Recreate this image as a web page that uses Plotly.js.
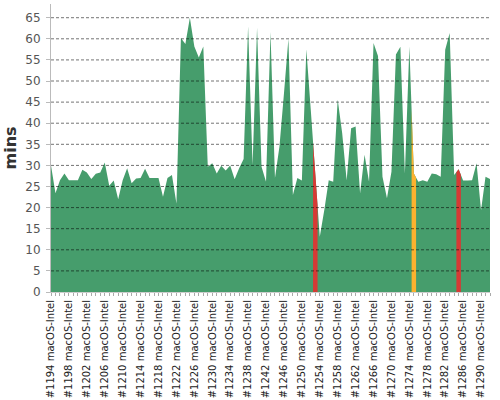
<!DOCTYPE html>
<html>
<head>
<meta charset="utf-8">
<script src="https://cdn.plot.ly/plotly-3.0.1.min.js"></script>
<style>html,body{margin:0;padding:0;background:#fff;}#chart{width:500px;height:400px;}</style>
</head>
<body>
<div id="chart"></div>
<script>
// Build numbers (first and last build shown)
const firstBuild = 1194;
const lastBuild = 1292;
const platform = "macOS-Intel";

// Build durations in minutes, builds #1194 .. #1292
const durations = [
  30.0, 23.4, 26.5, 28.1, 26.5, 26.5, 26.5, 29.0, 28.3, 26.8,
  28.0, 28.3, 30.7, 25.2, 26.4, 22.0, 26.5, 29.3, 25.8, 26.9,
  27.0, 29.2, 27.0, 27.0, 27.0, 22.6, 27.0, 27.7, 21.0, 60.2,
  58.8, 65.0, 58.2, 55.6, 58.2, 29.7, 30.5, 28.1, 29.9, 28.8,
  30.0, 26.7, 29.3, 31.5, 63.0, 30.1, 62.6, 29.7, 26.1, 61.6,
  27.0, 34.5, 47.0, 60.0, 23.0, 27.0, 26.4, 57.5, 43.0, 28.0,
  13.1, 19.4, 26.5, 26.1, 45.6, 37.7, 26.5, 38.8, 39.2, 23.4,
  32.5, 26.1, 59.0, 55.9, 27.3, 22.2, 28.5, 56.3, 58.1, 28.1,
  58.2, 28.1, 26.1, 26.5, 26.1, 28.1, 27.9, 27.3, 57.4, 61.4,
  27.7, 29.1, 26.4, 26.4, 26.5, 30.5, 19.4, 27.3, 26.8
];

// Build results that are not successful
const failedBuilds = [1253, 1285];
const unstableBuilds = [1275];

// Tick labels shown on the x axis
const tickBuilds = [1194, 1198, 1202, 1206, 1210, 1214, 1218, 1222, 1226, 1230,
  1234, 1238, 1242, 1246, 1250, 1254, 1258, 1262, 1266, 1270, 1274, 1278, 1282, 1286, 1290];
const tickLabels = tickBuilds.map(b => "#" + b + " " + platform);

// y-axis ticks
const yTicks = [0, 5, 10, 15, 20, 25, 30, 35, 40, 45, 50, 55, 60, 65];

const colors = { success: "#469d6c", failed: "#d63a35", unstable: "#fcb22f" };

const builds = durations.map((_, i) => firstBuild + i);

const traces = [{
  x: builds, y: durations, type: "scatter", mode: "none",
  fill: "tozeroy", fillcolor: colors.success, hoverinfo: "skip", showlegend: false
}];

function segment(build, color) {
  const i = builds.indexOf(build);
  const prev = durations[Math.max(i - 1, 0)];
  const cur = durations[i];
  const next = durations[Math.min(i + 1, durations.length - 1)];
  return {
    x: [build - 0.5, build, build + 0.5],
    y: [(prev + cur) / 2, cur, (cur + next) / 2],
    type: "scatter", mode: "none", fill: "tozeroy", fillcolor: color,
    hoverinfo: "skip", showlegend: false
  };
}
failedBuilds.forEach(b => traces.push(segment(b, colors.failed)));
unstableBuilds.forEach(b => traces.push(segment(b, colors.unstable)));

const gridShapes = yTicks.filter(v => v > 0).map(v => ({
  type: "line", xref: "paper", yref: "y", x0: 0, x1: 1, y0: v, y1: v,
  layer: "above", line: { color: "rgba(0,0,0,0.55)", width: 1, dash: "3px,2px" }
}));

const layout = {
  width: 500, height: 400,
  margin: { l: 51, r: 10, t: 4, b: 108, pad: 0 },
  paper_bgcolor: "#fff", plot_bgcolor: "#fff",
  font: { family: "DejaVu Sans", size: 11, color: "#555" },
  showlegend: false,
  xaxis: {
    range: [firstBuild, lastBuild],
    tickmode: "array", tickvals: tickBuilds, ticktext: tickLabels,
    tickangle: -90,
    tickfont: { family: "DejaVu Sans", size: 10, color: "#222" },
    showgrid: false, zeroline: false,
    showline: true, linecolor: "#cccccc", linewidth: 1,
    ticks: "outside", ticklen: 3, tickcolor: "#aaaaaa",
    minor: { dtick: 1, ticks: "outside", ticklen: 3, tickcolor: "#aaaaaa", showgrid: false },
    fixedrange: true
  },
  yaxis: {
    range: [0, 68.25],
    tickmode: "array", tickvals: yTicks,
    tickfont: { family: "DejaVu Sans", size: 12, color: "#555" },
    showgrid: false, zeroline: false,
    showline: true, linecolor: "#bbbbbb", linewidth: 1,
    ticks: "outside", ticklen: 4, tickcolor: "#bbbbbb",
    ticklabelstandoff: 3,
    title: { text: "mins", font: { family: "DejaVu Sans", size: 16, color: "#333", weight: "bold" }, standoff: 4 },
    fixedrange: true
  },
  shapes: gridShapes
};

Plotly.newPlot("chart", traces, layout, { displayModeBar: false, staticPlot: true });
</script>
</body>
</html>
